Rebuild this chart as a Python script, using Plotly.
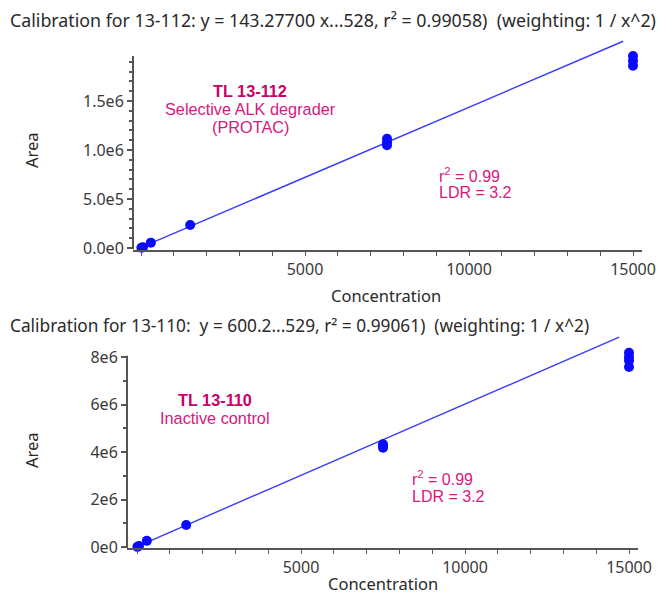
import plotly.graph_objects as go

# ---- data ----
conc_a = [12, 60, 300, 1500, 7500, 7500, 7500, 15000, 15000, 15000]
area_a = [2.0e3, 9.0e3, 5.5e4, 2.35e5, 1.05e6, 1.08e6, 1.115e6, 1.86e6, 1.91e6, 1.96e6]
fit_x_a = [0, 14700]
fit_y_a = [6.0e3, 2.11e6]

conc_b = [12, 60, 300, 1500, 7500, 7500, 7500, 15000, 15000, 15000, 15000]
area_b = [7.0e3, 4.0e4, 2.6e5, 9.3e5, 4.18e6, 4.25e6, 4.33e6, 7.58e6, 7.85e6, 8.0e6, 8.18e6]
fit_x_b = [0, 14700]
fit_y_b = [2.0e4, 8.84e6]

x_ticks = [5000, 10000, 15000]
x_ticklabels = ["5000", "10000", "15000"]
y_ticks_a = [0, 5e5, 1e6, 1.5e6]
y_ticklabels_a = ["0.0e0", "5.0e5", "1.0e6", "1.5e6"]
y_ticks_b = [0, 2e6, 4e6, 6e6, 8e6]
y_ticklabels_b = ["0e0", "2e6", "4e6", "6e6", "8e6"]

title_a = "Calibration for 13-112: y = 143.27700 x...528, r² = 0.99058)\u00a0\u00a0(weighting: 1 / x^2)"
title_b = "Calibration for 13-110:\u00a0 y = 600.2...529, r² = 0.99061)\u00a0\u00a0(weighting: 1 / x^2)"

W, H = 668, 601
LINE = "#3a3aff"
MARK = "#0a0aff"
AXC = "#555555"
TICKC = "#3a3a3a"
TXTC = "#2a2a2a"
PINK = "#d8177e"
PINK_B = "#c8006a"
TXT = "Noto Sans"
ARIAL = "Liberation Sans"

fig = go.Figure()

fig.add_trace(go.Scatter(x=fit_x_a, y=fit_y_a, mode="lines", line=dict(color=LINE, width=1.4),
                         xaxis="x", yaxis="y", showlegend=False, hoverinfo="skip"))
fig.add_trace(go.Scatter(x=conc_a, y=area_a, mode="markers", marker=dict(color=MARK, size=10),
                         xaxis="x", yaxis="y", showlegend=False, cliponaxis=False))
fig.add_trace(go.Scatter(x=fit_x_b, y=fit_y_b, mode="lines", line=dict(color=LINE, width=1.4),
                         xaxis="x2", yaxis="y2", showlegend=False, hoverinfo="skip"))
fig.add_trace(go.Scatter(x=conc_b, y=area_b, mode="markers", marker=dict(color=MARK, size=10),
                         xaxis="x2", yaxis="y2", showlegend=False, cliponaxis=False))

def px_x(p):
    return p / W

def px_y(p):
    return 1 - p / H

xaxis_common = dict(showgrid=False, zeroline=False, showline=True, linecolor=AXC, linewidth=2,
                    ticks="outside", ticklen=4, tickcolor=AXC, tickwidth=1,
                    tickvals=x_ticks, ticktext=x_ticklabels, automargin=False,
                    tickfont=dict(family=TXT, size=16, color=TICKC),
                    minor=dict(dtick=1000, tick0=0, ticks="outside", ticklen=4, tickcolor=AXC, showgrid=False))

yaxis_common = dict(showgrid=False, zeroline=False, showline=False, automargin=False,
                    ticks="outside", ticklen=5, tickcolor=AXC, tickwidth=1.5,
                    tickfont=dict(family=TXT, size=16, color=TICKC))

fig.update_layout(
    width=W, height=H, autosize=False,
    margin=dict(l=0, r=0, t=0, b=0, pad=0, autoexpand=False),
    paper_bgcolor="white", plot_bgcolor="white",
    xaxis=dict(domain=[px_x(133), px_x(642)], range=[-244, 15274], anchor="y", **xaxis_common),
    yaxis=dict(domain=[px_y(249.5), px_y(39.3)], range=[-1.5e4, 2.13e6], anchor="x",
               tickvals=y_ticks_a, ticktext=y_ticklabels_a,
               minor=dict(tickvals=[i * 1e5 for i in range(1, 20) if i % 5], ticks="outside",
                          ticklen=3, tickcolor=AXC, showgrid=False),
               **yaxis_common),
    xaxis2=dict(domain=[px_x(127), px_x(638)], range=[-305, 15274], anchor="y2", **xaxis_common),
    yaxis2=dict(domain=[px_y(548.2), px_y(334.5)], range=[-5e4, 8.95e6], anchor="x2",
                tickvals=y_ticks_b, ticktext=y_ticklabels_b,
                minor=dict(tickvals=[1e6, 3e6, 5e6, 7e6], ticks="outside",
                           ticklen=3, tickcolor=AXC, showgrid=False),
                **yaxis_common),
)

# y axis lines (ending below the top of the plotting area, as in the reference)
fig.add_shape(type="line", xref="x domain", yref="y", x0=0, x1=0, y0=-1.5e4, y1=1.96e6,
              line=dict(color=AXC, width=2))
fig.add_shape(type="line", xref="x2 domain", yref="y2", x0=0, x1=0, y0=-5e4, y1=8.05e6,
              line=dict(color=AXC, width=2))

ann = []

def text(t, x, y, size, color, family=TXT, xanchor="center", angle=0):
    ann.append(dict(text=t, xref="paper", yref="paper", x=px_x(x), y=px_y(y),
                    xanchor=xanchor, yanchor="middle", textangle=angle, showarrow=False,
                    font=dict(family=family, size=size, color=color)))

# chart titles
text(title_a, 8, 20, 17.8, TXTC, xanchor="left")
text(title_b, 8, 325, 17.3, TXTC, xanchor="left")
# axis titles
text("Area", 31, 150, 16.5, TXTC, angle=-90)
text("Area", 31, 450, 16.5, TXTC, angle=-90)
text("Concentration", 386, 295, 16.5, TXTC)
text("Concentration", 383, 583, 16.5, TXTC)
# compound labels
text("<b>TL 13-112</b>", 250, 91, 16.3, PINK_B, family=ARIAL)
text("Selective ALK degrader", 250, 109, 16.3, PINK, family=ARIAL)
text("(PROTAC)", 250, 127, 16.3, PINK, family=ARIAL)
text("r<sup>2</sup> = 0.99", 437, 175, 16, PINK, family=ARIAL, xanchor="left")
text("LDR = 3.2", 437, 193, 16, PINK, family=ARIAL, xanchor="left")
text("<b>TL 13-110</b>", 215, 400, 16.3, PINK_B, family=ARIAL)
text("Inactive control", 215, 418, 16.3, PINK, family=ARIAL)
text("r<sup>2</sup> = 0.99", 410, 478, 16, PINK, family=ARIAL, xanchor="left")
text("LDR = 3.2", 410, 496, 16, PINK, family=ARIAL, xanchor="left")
fig.update_layout(annotations=ann)

fig.write_html("out.html", config={"displayModeBar": False, "responsive": False},
               post_script="document.body.style.margin='0';document.body.style.overflow='hidden';")
